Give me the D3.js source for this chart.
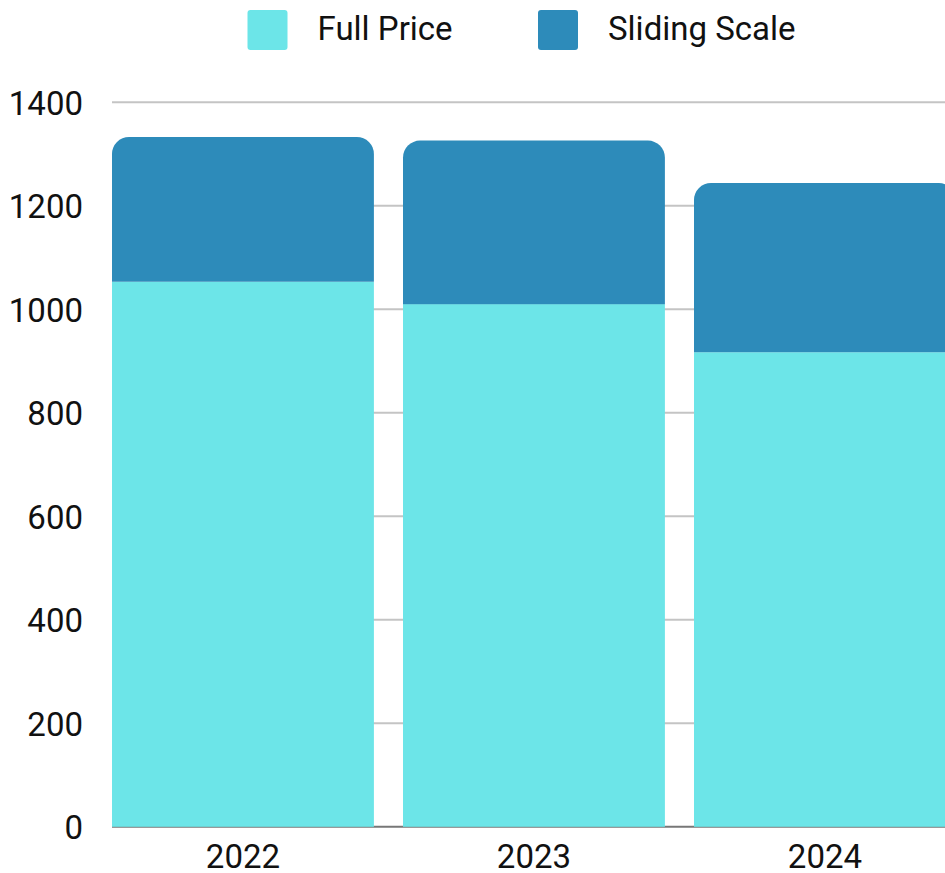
<!DOCTYPE html>
<html>
<head>
<meta charset="utf-8">
<script src="https://cdn.jsdelivr.net/npm/d3@7"></script>
<style>
  body { margin: 0; background: #fff; }
  svg { display: block; font-family: Roboto, "Noto Sans", sans-serif; }
</style>
</head>
<body>
<script>
var years = ["2022", "2023", "2024"];
var fullPrice = [1053, 1010, 917];
var slidingScale = [280, 316, 327];
var seriesNames = ["Full Price", "Sliding Scale"];
var yTicks = [0, 200, 400, 600, 800, 1000, 1200, 1400];

var colors = ["#6ce5e8", "#2d8bba"];

var width = 945, height = 873;
var margin = {top: 102.3, left: 112, bottom: 46.2};

var svg = d3.select("body").append("svg")
  .attr("width", width)
  .attr("height", height);

var x = d3.scaleBand()
  .domain(years)
  .range([margin.left, 955.9])
  .paddingInner(0.1)
  .paddingOuter(0);

var y = d3.scaleLinear()
  .domain([0, 1400])
  .range([height - margin.bottom, margin.top]);

// gridlines
svg.append("g")
  .selectAll("line")
  .data(yTicks.filter(function(d) { return d > 0; }))
  .enter().append("line")
  .attr("x1", margin.left)
  .attr("x2", width)
  .attr("y1", function(d) { return y(d); })
  .attr("y2", function(d) { return y(d); })
  .attr("stroke", "#c4c4c4")
  .attr("stroke-width", 2);

// y axis labels
var yAxis = d3.axisLeft(y).tickValues(yTicks).tickFormat(d3.format("d")).tickSize(0).tickPadding(0);
var gy = svg.append("g")
  .attr("transform", "translate(83,0)")
  .call(yAxis);
gy.select(".domain").remove();
gy.selectAll("text")
  .attr("font-size", 33)
  .attr("font-family", "Roboto")
  .attr("fill", "#111")
  .attr("dy", "0.36em");

// baseline
svg.append("line")
  .attr("x1", margin.left)
  .attr("x2", width)
  .attr("y1", y(0))
  .attr("y2", y(0))
  .attr("stroke", "#777")
  .attr("stroke-width", 2);

var rows = years.map(function(yr, i) {
  return {year: yr, full: fullPrice[i], sliding: slidingScale[i]};
});

var r = 17;
function topRounded(x0, y0, w, h) {
  return "M" + x0 + "," + (y0 + h) +
    "V" + (y0 + r) +
    "A" + r + "," + r + " 0 0 1 " + (x0 + r) + "," + y0 +
    "H" + (x0 + w - r) +
    "A" + r + "," + r + " 0 0 1 " + (x0 + w) + "," + (y0 + r) +
    "V" + (y0 + h) + "Z";
}

// full price bars
svg.append("g")
  .selectAll("rect")
  .data(rows)
  .enter().append("rect")
  .attr("x", function(d) { return x(d.year); })
  .attr("width", x.bandwidth())
  .attr("y", function(d) { return y(d.full); })
  .attr("height", function(d) { return y(0) - y(d.full); })
  .attr("fill", colors[0]);

// sliding scale bars (top, rounded)
svg.append("g")
  .selectAll("path")
  .data(rows)
  .enter().append("path")
  .attr("d", function(d) {
    var top = y(d.full + d.sliding);
    return topRounded(x(d.year), top, x.bandwidth(), y(d.full) - top);
  })
  .attr("fill", colors[1]);

// x axis labels
var xAxis = d3.axisBottom(x).tickSize(0).tickPadding(0);
var gx = svg.append("g")
  .attr("transform", "translate(0," + y(0) + ")")
  .call(xAxis);
gx.select(".domain").remove();
gx.selectAll("text")
  .attr("font-size", 33)
  .attr("font-family", "Roboto")
  .attr("fill", "#111")
  .attr("dy", null)
  .attr("y", 41.5);

// legend
var legendX = [247.5, 538];
var legend = svg.append("g")
  .selectAll("g")
  .data(seriesNames)
  .enter().append("g")
  .attr("transform", function(d, i) { return "translate(" + legendX[i] + ",10)"; });

legend.append("rect")
  .attr("width", 40)
  .attr("height", 40)
  .attr("rx", 3)
  .attr("fill", function(d, i) { return colors[i]; });

legend.append("text")
  .attr("x", 70)
  .attr("y", 29.5)
  .attr("font-size", 33)
  .attr("fill", "#111")
  .text(function(d) { return d; });
</script>
</body>
</html>
